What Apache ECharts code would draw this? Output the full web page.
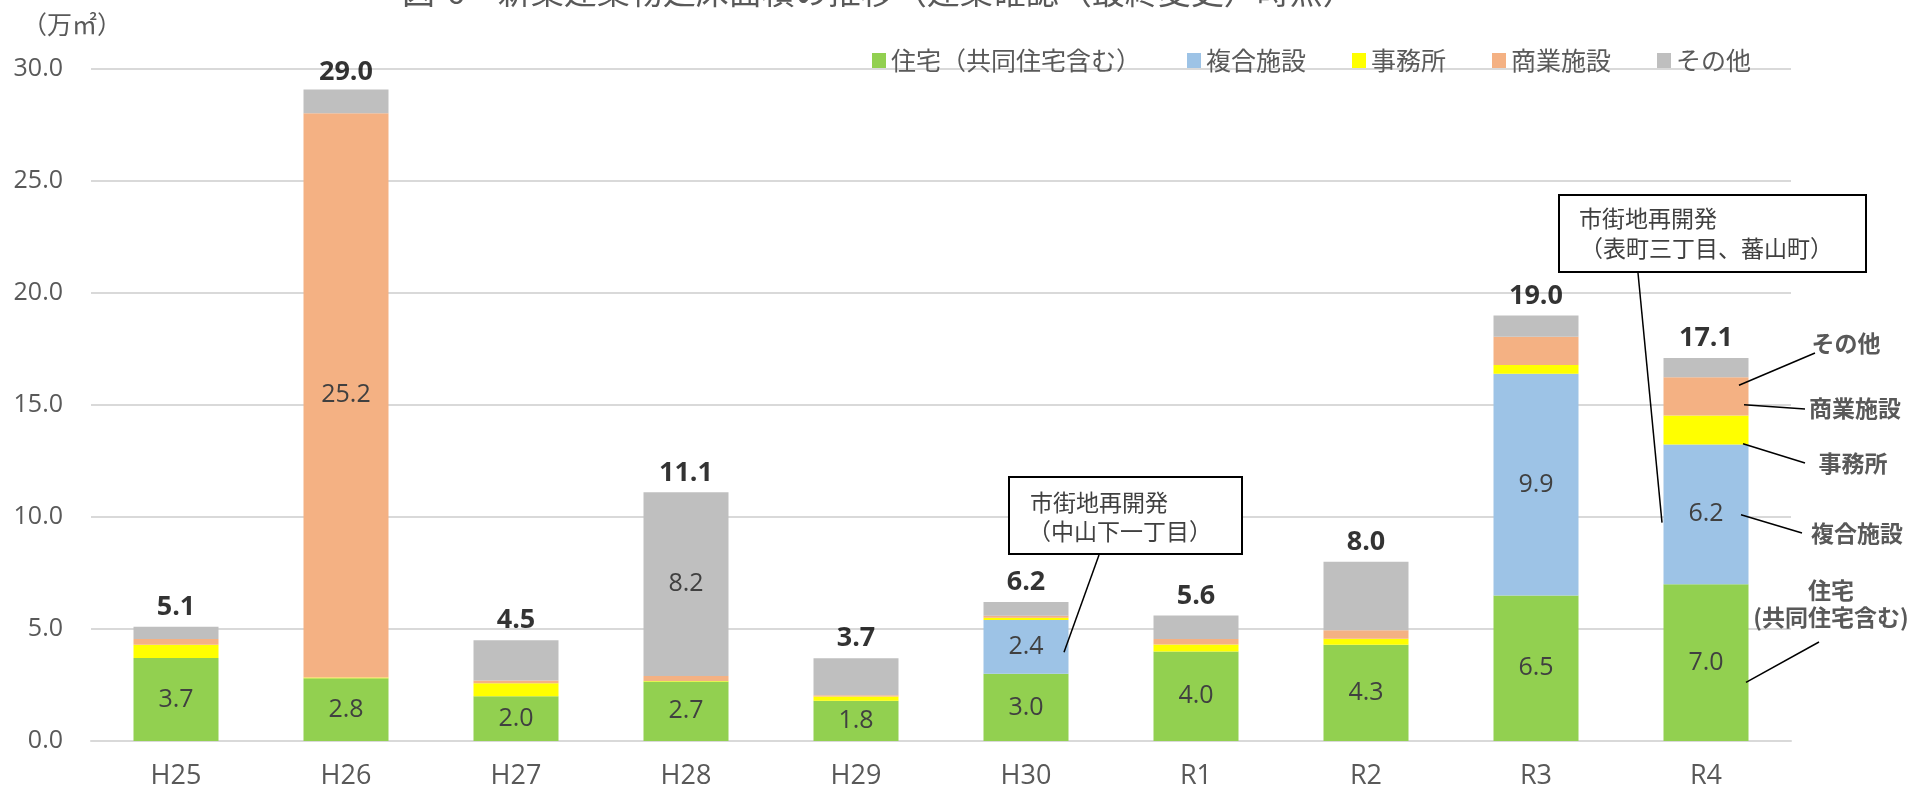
<!DOCTYPE html>
<html>
<head>
<meta charset="utf-8">
<title>新築建築物延床面積の推移</title>
<script src="https://cdn.jsdelivr.net/npm/echarts@6/dist/echarts.min.js"></script>
<style>
	html, body { margin: 0; padding: 0; background: #fff; }
	#echarts { width: 1915px; height: 802px; }
</style>
</head>
<body>
<div id="echarts"></div>
<script>
// 年度
const categories = ['H25', 'H26', 'H27', 'H28', 'H29', 'H30', 'R1', 'R2', 'R3', 'R4'];
// 用途別の延床面積（万㎡）
const housing = [3.7, 2.8, 2.0, 2.66, 1.8, 3.0, 4.0, 4.3, 6.5, 7.0];
const mixedUse = [0, 0, 0, 0, 0, 2.4, 0, 0, 9.9, 6.24];
const office = [0.6, 0.03, 0.58, 0.02, 0.19, 0.1, 0.31, 0.27, 0.39, 1.29];
const commercial = [0.25, 25.2, 0.12, 0.22, 0.05, 0.09, 0.24, 0.37, 1.26, 1.71];
const others = [0.55, 1.05, 1.8, 8.2, 1.65, 0.62, 1.05, 3.06, 0.94, 0.86];
// 合計
const totals = [5.1, 29.0, 4.5, 11.1, 3.7, 6.2, 5.6, 8.0, 19.0, 17.1];
// y軸
const yTicks = [0, 5, 10, 15, 20, 25, 30];

const FONT = '"Open Sans", "Noto Sans CJK JP", sans-serif';
const JP = '"Noto Sans CJK JP", sans-serif';

let myChart = echarts.init(document.getElementById('echarts'));

// 棒の中の数値（小さい値は表示しない）
function barSeries(name, data, color, minLabel) {
	return {
		name: name,
		type: 'bar',
		stack: 'total',
		barWidth: '50%',
		itemStyle: { color: color },
		label: {
			show: true,
			position: 'inside',
			fontFamily: FONT,
			fontSize: 25,
			color: '#404040',
			formatter: function(p) {
				return p.value >= minLabel ? p.value.toFixed(1) : '';
			}
		},
		data: data
	};
}

let option = {
	animation: false,
	textStyle: { fontFamily: FONT },
	grid: { left: 91, right: 124, top: 69, bottom: 61 },
	legend: {
		data: ['住宅（共同住宅含む）', '複合施設', '事務所', '商業施設', 'その他'],
		left: 867,
		top: 43,
		icon: 'rect',
		itemWidth: 14,
		itemHeight: 15,
		itemGap: 46,
		textStyle: { fontFamily: JP, fontSize: 25, color: '#595959' }
	},
	xAxis: {
		type: 'category',
		data: categories,
		axisLine: { lineStyle: { color: '#D9D9D9', width: 2 } },
		axisTick: { show: false },
		axisLabel: { fontSize: 27, color: '#595959', margin: 22 }
	},
	yAxis: {
		type: 'value',
		min: yTicks[0],
		max: yTicks[yTicks.length - 1],
		interval: yTicks[1] - yTicks[0],
		axisLine: { show: false },
		axisTick: { show: false },
		splitLine: { lineStyle: { color: '#D9D9D9', width: 2 } },
		axisLabel: {
			fontSize: 25,
			color: '#595959',
			margin: 28,
			formatter: function(v) { return v.toFixed(1); }
		}
	},
	series: [
		barSeries('住宅（共同住宅含む）', housing, '#92D050', 0),
		barSeries('複合施設', mixedUse, '#9DC3E6', 2),
		barSeries('事務所', office, '#FFFF00', Infinity),
		barSeries('商業施設', commercial, '#F4B183', 2),
		barSeries('その他', others, '#BFBFBF', 5),
		{
			// 合計ラベル
			name: '合計',
			type: 'scatter',
			symbolSize: 0,
			silent: true,
			z: 10,
			label: {
				show: true,
				position: 'top',
				distance: 6,
				fontFamily: FONT,
				fontSize: 27,
				fontWeight: 'bold',
				color: '#000',
				formatter: function(p) { return p.value.toFixed(1); }
			},
			data: totals
		}
	]
};
myChart.setOption(option);

// 注記は棒の位置から線を引く
function at(cat, val, dx) {
	let p = myChart.convertToPixel({ gridIndex: 0 }, [cat, val]);
	return [p[0] + dx, p[1]];
}

let graphics = [];

function line(a, b) {
	graphics.push({
		type: 'line',
		z: 20,
		shape: { x1: a[0], y1: a[1], x2: b[0], y2: b[1] },
		style: { stroke: '#000', lineWidth: 1.5 }
	});
}

function text(str, x, y, opt) {
	graphics.push({
		type: 'text',
		z: 21,
		x: x,
		y: y,
		style: Object.assign({
			text: str,
			fontFamily: JP,
			fontSize: 23,
			fill: '#404040',
			align: 'left',
			verticalAlign: 'middle'
		}, opt || {})
	});
}

function box(x, y, w, h) {
	graphics.push({
		type: 'rect',
		z: 19,
		shape: { x: x, y: y, width: w, height: h },
		style: { fill: '#fff', stroke: '#000', lineWidth: 2 }
	});
}

// タイトル（上端で切れている）
text('図-6　新築建築物延床面積の推移（建築確認（最終変更）時点）', 402, -9, { fontSize: 33, fill: '#595959' });
// 単位
text('（万㎡）', 22, 24, { fontSize: 25, fill: '#595959' });

// 市街地再開発（中山下一丁目）
line([1099, 555], at(5, 3.96, 38));
box(1009, 477, 233, 77);
text('市街地再開発', 1030, 502);
text('（中山下一丁目）', 1028, 531);

// 市街地再開発（表町三丁目、蕃山町）
line([1638, 273], at(9, 9.75, -44));
box(1559, 195, 307, 77);
text('市街地再開発', 1579, 218);
text('（表町三丁目、蕃山町）', 1580, 248);

// R4の用途ラベル
let side = { fontWeight: 'bold', fill: '#595959', align: 'center' };
text('その他', 1846, 343, side);
line([1815, 353], at(9, 15.88, 33));
text('商業施設', 1855, 408, side);
line([1805, 409], at(9, 15.01, 38));
text('事務所', 1853, 463, side);
line([1805, 463], at(9, 13.27, 37));
text('複合施設', 1857, 533, side);
line([1802, 533], at(9, 10.1, 35));
text('住宅', 1831, 590, side);
text('(共同住宅含む)', 1831, 617, side);
line([1819, 642], at(9, 2.62, 40));

myChart.setOption({ graphic: graphics });
</script>
</body>
</html>
